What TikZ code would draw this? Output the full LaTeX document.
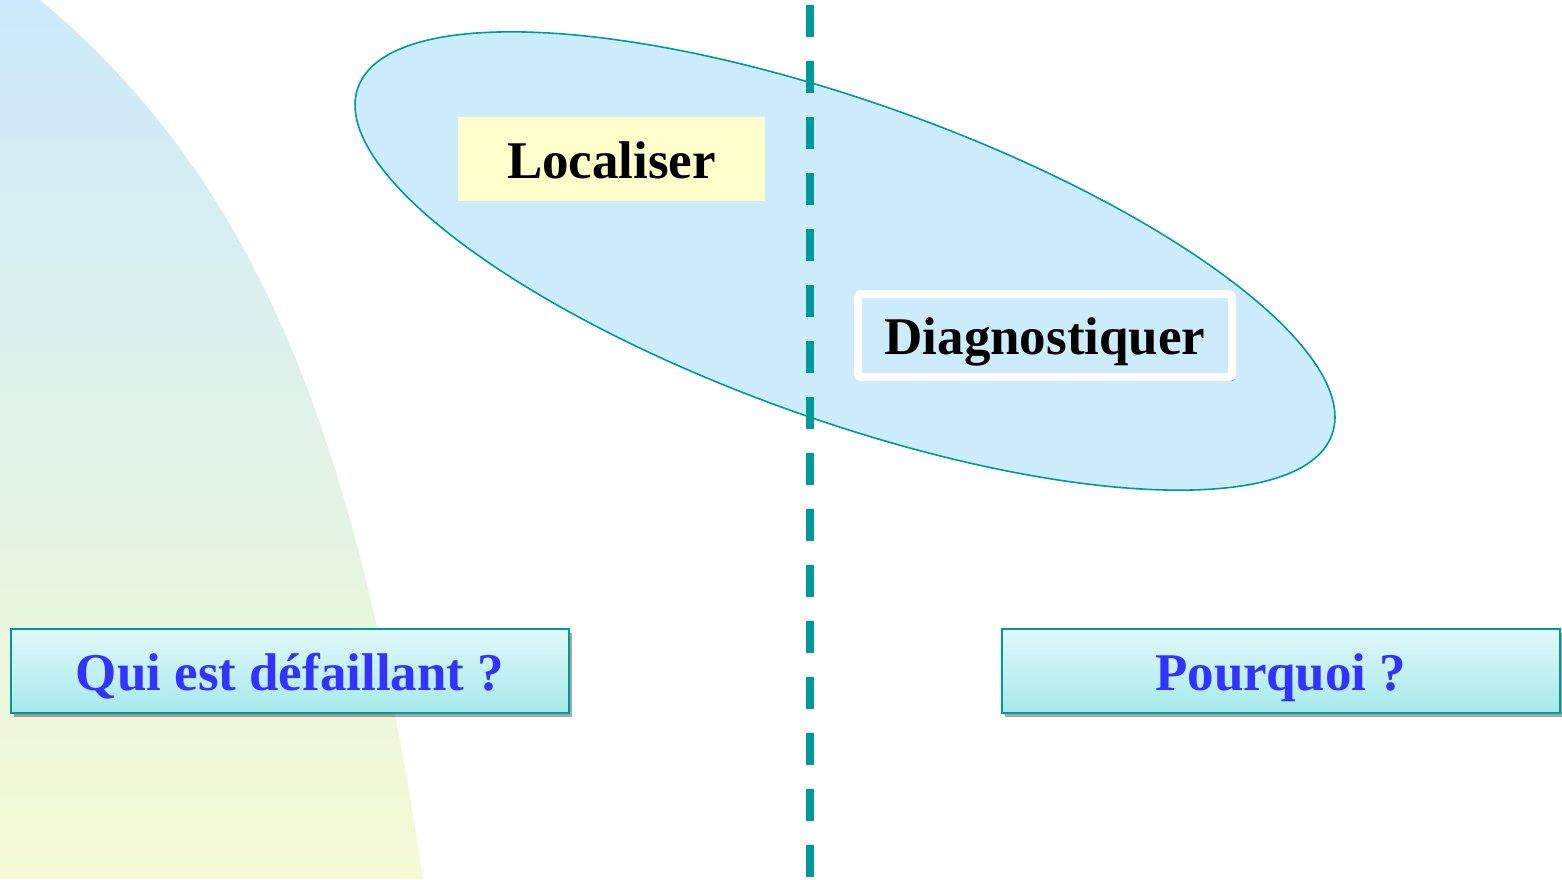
\documentclass[tikz,border=0pt]{standalone}
\usepackage{fontspec}
\setmainfont{Liberation Serif}
\usetikzlibrary{shadows}
\definecolor{tealline}{RGB}{0,153,153}
\definecolor{ellblue}{RGB}{204,236,252}
\definecolor{locyellow}{RGB}{255,255,204}
\definecolor{qblue}{RGB}{51,51,255}
\definecolor{bgtop}{RGB}{204,234,251}
\definecolor{bgbottom}{RGB}{245,250,210}
\definecolor{boxtop}{RGB}{226,248,248}
\definecolor{boxbottom}{RGB}{166,233,236}
\tikzset{
  bigtext/.style={font=\fontsize{53}{60}\selectfont\bfseries, text height=40pt, text depth=2pt},
  question/.style={bigtext, text=qblue, draw=tealline, line width=2pt,
    top color=boxtop, bottom color=boxbottom, inner sep=0pt,
    minimum width=558pt, minimum height=84pt,
    drop shadow={shadow xshift=3pt, shadow yshift=-4pt, fill=black, opacity=0.35}},
  locbox/.style={bigtext, fill=locyellow, inner sep=0pt,
    minimum width=307pt, minimum height=84pt},
  diagbox/.style={bigtext, draw=white, line width=8pt, fill=ellblue,
    rounded corners=3pt, inner sep=0pt, minimum width=374pt, minimum height=83pt,
    drop shadow={shadow xshift=3pt, shadow yshift=-4pt, fill=black, opacity=0.3}},
}
\begin{document}
\begin{tikzpicture}[x=1pt,y=-1pt]
\useasboundingbox (0,0) rectangle (1562,879);
% left background shape
\shade[top color=bgtop, bottom color=bgbottom]
  (0,0) -- (40,0) .. controls (268,190) and (360,459) .. (423,879) -- (0,879) -- cycle;
% ellipse
\draw[fill=ellblue, draw=tealline, line width=1.6pt, rotate around={-19.6:(845,261)}]
  (845,261) ellipse [x radius=517pt, y radius=159pt];
% dashed divider
\coordinate (dtop) at (810,5);
\coordinate (dbot) at (810,879);
\draw[tealline, line width=8pt, dash pattern=on 32pt off 24pt] (dtop) -- (dbot);
% nodes
\node[locbox] (loc) at (611.5,159) {Localiser};
\node[diagbox] (diag) at (1045,335.5) {Diagnostiquer};
\node[question] (qui) at (290,671) {Qui est défaillant ?};
\node[question] (pq) at (1281,671) {Pourquoi ?};
\end{tikzpicture}
\end{document}
